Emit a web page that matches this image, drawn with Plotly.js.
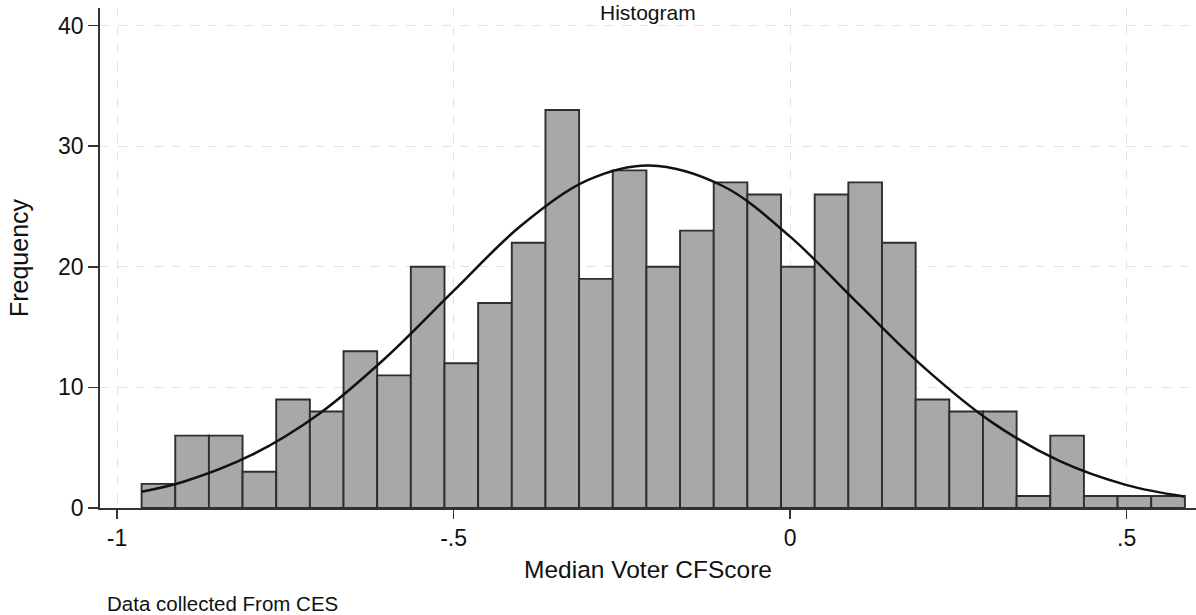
<!DOCTYPE html>
<html>
<head>
<meta charset="utf-8">
<script src="https://cdn.plot.ly/plotly-3.0.1.min.js"></script>
<style>html,body{margin:0;padding:0;background:#fff;}#chart{width:1196px;height:615px;}</style>
</head>
<body>
<div id="chart"></div>
<script>
// Histogram bins
const binStart = -0.9635;
const binWidth = 0.05;
const counts = [2, 6, 6, 3, 9, 8, 13, 11, 20, 12, 17, 22, 33, 19, 28, 20, 23, 27, 26, 20, 26, 27, 22, 9, 8, 8, 1, 6, 1, 1, 1];

// Overlaid normal curve
const curveX = [-0.9635, -0.9, -0.8, -0.7, -0.6, -0.5, -0.4, -0.3, -0.209, -0.1, 0.0, 0.1, 0.2, 0.3, 0.4, 0.5, 0.5855];
const curveY = [1.35, 2.2, 4.4, 7.8, 12.5, 18.0, 23.4, 27.2, 28.4, 26.7, 22.5, 17.0, 11.6, 7.1, 3.9, 1.9, 0.96];

// Axis ticks
const xTickVals = [-1, -0.5, 0, 0.5];
const xTickText = ['-1', '-.5', '0', '.5'];
const yTickVals = [0, 10, 20, 30, 40];
const yTickText = ['0', '10', '20', '30', '40'];

const binCenters = counts.map((c, i) => binStart + binWidth * (i + 0.5));

const FONT = 'Liberation Sans, Arial, sans-serif';

const traces = [
  {
    type: 'bar',
    x: binCenters,
    y: counts,
    width: binWidth,
    marker: {color: '#a8a8a8', line: {color: '#2e2e2e', width: 1.9}},
    hoverinfo: 'x+y',
    showlegend: false
  },
  {
    type: 'scatter',
    mode: 'lines',
    x: curveX,
    y: curveY,
    line: {color: '#111111', width: 2.5, shape: 'spline', smoothing: 1},
    hoverinfo: 'skip',
    showlegend: false
  }
];

const layout = {
  width: 1196,
  height: 615,
  margin: {l: 100, r: 0, t: 8, b: 107, pad: 0},
  paper_bgcolor: '#ffffff',
  plot_bgcolor: '#ffffff',
  bargap: 0,
  font: {family: FONT, color: '#111111', size: 22},
  annotations: [
    {
      text: 'Histogram',
      xref: 'paper', yref: 'paper',
      x: 0.5, y: 1.0,
      xanchor: 'center', yanchor: 'middle',
      yshift: -4,
      showarrow: false,
      bgcolor: 'rgba(255,255,255,0)',
      font: {family: FONT, size: 21, color: '#111111'}
    },
    {
      text: 'Data collected From CES',
      xref: 'paper', yref: 'paper',
      x: 0.0045, y: -0.19,
      xanchor: 'left', yanchor: 'middle',
      showarrow: false,
      font: {family: FONT, size: 20.5, color: '#111111'}
    }
  ],
  xaxis: {
    range: [-1.0253, 0.603],
    tickvals: xTickVals,
    ticktext: xTickText,
    ticks: 'outside',
    ticklen: 9,
    tickwidth: 1.5,
    tickcolor: '#333333',
    tickfont: {family: FONT, size: 23, color: '#111111'},
    showline: true,
    linecolor: '#333333',
    linewidth: 1.8,
    showgrid: true,
    gridcolor: '#e2e2e2',
    griddash: 'dash',
    gridwidth: 1,
    zeroline: false,
    title: {text: 'Median Voter CFScore', font: {family: FONT, size: 24.5, color: '#111111'}, standoff: 10}
  },
  yaxis: {
    range: [0, 41.46],
    tickvals: yTickVals,
    ticktext: yTickText,
    ticks: 'outside',
    ticklen: 10,
    tickwidth: 1.5,
    tickcolor: '#333333',
    tickfont: {family: FONT, size: 23, color: '#111111'},
    showline: true,
    linecolor: '#333333',
    linewidth: 1.8,
    showgrid: true,
    gridcolor: '#e2e2e2',
    griddash: 'dash',
    gridwidth: 1,
    zeroline: false,
    title: {text: 'Frequency', font: {family: FONT, size: 25, color: '#111111'}, standoff: 22}
  }
};

Plotly.newPlot('chart', traces, layout, {displayModeBar: false, staticPlot: true});
</script>
</body>
</html>
